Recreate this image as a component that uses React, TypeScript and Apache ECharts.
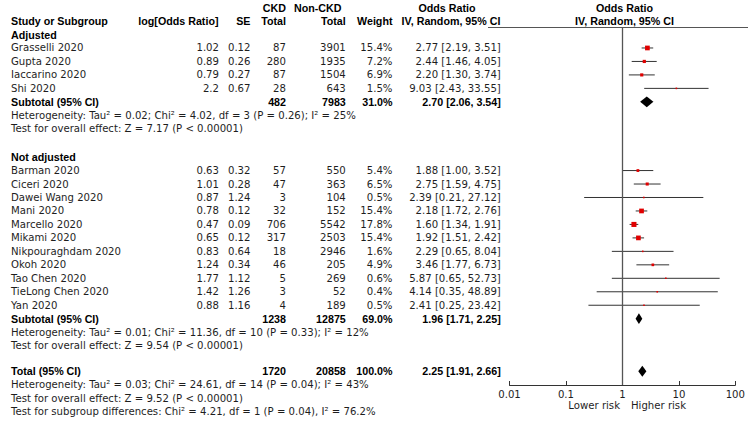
import React, { useEffect, useRef } from "react";
import * as echarts from "echarts";

// ---------------- data ----------------
const adjustedStudies = ["Grasselli 2020", "Gupta 2020", "Iaccarino 2020", "Shi 2020"];
const adjustedLogOR = [1.02, 0.89, 0.79, 2.2];
const adjustedSE = [0.12, 0.26, 0.27, 0.67];
const adjustedCKD = [87, 280, 87, 28];
const adjustedNonCKD = [3901, 1935, 1504, 643];
const adjustedWeight = [15.4, 7.2, 6.9, 1.5];
const adjustedOR = [2.77, 2.44, 2.2, 9.03];
const adjustedLow = [2.19, 1.46, 1.3, 2.43];
const adjustedHigh = [3.51, 4.05, 3.74, 33.55];

const notAdjStudies = [
  "Barman 2020", "Ciceri 2020", "Dawei Wang 2020", "Mani 2020", "Marcello 2020", "Mikami 2020",
  "Nikpouraghdam 2020", "Okoh 2020", "Tao Chen 2020", "TieLong Chen 2020", "Yan 2020",
];
const notAdjLogOR = [0.63, 1.01, 0.87, 0.78, 0.47, 0.65, 0.83, 1.24, 1.77, 1.42, 0.88];
const notAdjSE = [0.32, 0.28, 1.24, 0.12, 0.09, 0.12, 0.64, 0.34, 1.12, 1.26, 1.16];
const notAdjCKD = [57, 47, 3, 32, 706, 317, 18, 46, 5, 3, 4];
const notAdjNonCKD = [550, 363, 104, 152, 5542, 2503, 2946, 205, 269, 52, 189];
const notAdjWeight = [5.4, 6.5, 0.5, 15.4, 17.8, 15.4, 1.6, 4.9, 0.6, 0.4, 0.5];
const notAdjOR = [1.88, 2.75, 2.39, 2.18, 1.6, 1.92, 2.29, 3.46, 5.87, 4.14, 2.41];
const notAdjLow = [1.0, 1.59, 0.21, 1.72, 1.34, 1.51, 0.65, 1.77, 0.65, 0.35, 0.25];
const notAdjHigh = [3.52, 4.75, 27.12, 2.76, 1.91, 2.42, 8.04, 6.73, 52.73, 48.89, 23.42];

// subtotal / total: [CKD, NonCKD, weight, OR, low, high]
const adjustedSubtotal = [482, 7983, 31.0, 2.7, 2.06, 3.54];
const notAdjSubtotal = [1238, 12875, 69.0, 1.96, 1.71, 2.25];
const overallTotal = [1720, 20858, 100.0, 2.25, 1.91, 2.66];

const adjustedNotes = [
  "Heterogeneity: Tau² = 0.02; Chi² = 4.02, df = 3 (P = 0.26); I² = 25%",
  "Test for overall effect: Z = 7.17 (P < 0.00001)",
];
const notAdjNotes = [
  "Heterogeneity: Tau² = 0.01; Chi² = 11.36, df = 10 (P = 0.33); I² = 12%",
  "Test for overall effect: Z = 9.54 (P < 0.00001)",
];
const totalNotes = [
  "Heterogeneity: Tau² = 0.03; Chi² = 24.61, df = 14 (P = 0.04); I² = 43%",
  "Test for overall effect: Z = 9.52 (P < 0.00001)",
  "Test for subgroup differences: Chi² = 4.21, df = 1 (P = 0.04), I² = 76.2%",
];
const xTickLabels = ["0.01", "0.1", "1", "10", "100"];

// ---------------- layout ----------------
const W = 748;
const H = 422;
const ROW0 = 34.5;
const ROWH = 13.47;
const rowY = (i: number) => i + (i >= 9 && i <= 23 ? 0.1 : 0);
const FONT = '"DejaVu Sans", sans-serif';
const FS = 10.15;
const BOLD_FONT = '"Liberation Sans", Arial, sans-serif';
const BFS = 10.7;
const TXT = "#1e1e1e";

const COL = {
  name: 11,
  logOR: 219,
  se: 250.5,
  ckd: 286,
  non: 345.8,
  weight: 392.5,
  ci: 500.8,
};

type Cell = { x: number; row: number; text: string; align: string; bold?: boolean };
type FItem = { or: number; lo: number; hi: number; row: number; w: number; diamond: boolean };

const fmt2 = (v: number) => v.toFixed(2);
const ciText = (o: number, l: number, h: number) => `${fmt2(o)} [${fmt2(l)}, ${fmt2(h)}]`;

function buildCells(): { cells: Cell[]; forest: FItem[] } {
  const cells: Cell[] = [];
  const forest: FItem[] = [];
  // headers
  cells.push({ x: COL.ckd, row: -2, text: "CKD", align: "right", bold: true });
  cells.push({ x: 341.5, row: -2, text: "Non-CKD", align: "right", bold: true });
  cells.push({ x: 447, row: -2, text: "Odds Ratio", align: "center", bold: true });
  cells.push({ x: 624.5, row: -2, text: "Odds Ratio", align: "center", bold: true });
  cells.push({ x: COL.name, row: -1, text: "Study or Subgroup", align: "left", bold: true });
  cells.push({ x: 218.5, row: -1, text: "log[Odds Ratio]", align: "right", bold: true });
  cells.push({ x: COL.se, row: -1, text: "SE", align: "right", bold: true });
  cells.push({ x: COL.ckd, row: -1, text: "Total", align: "right", bold: true });
  cells.push({ x: COL.non, row: -1, text: "Total", align: "right", bold: true });
  cells.push({ x: COL.weight, row: -1, text: "Weight", align: "right", bold: true });
  cells.push({ x: 451, row: -1, text: "IV, Random, 95% CI", align: "center", bold: true });
  cells.push({ x: 624.5, row: -1, text: "IV, Random, 95% CI", align: "center", bold: true });

  const group = (
    start: number, title: string, names: string[], logOR: number[], se: number[], ckd: number[],
    non: number[], wt: number[], or: number[], lo: number[], hi: number[], sub: number[], notes: string[]
  ) => {
    cells.push({ x: COL.name, row: rowY(start), text: title, align: "left", bold: true });
    names.forEach((n, i) => {
      const r = rowY(start + 1 + i);
      cells.push({ x: COL.name, row: r, text: n, align: "left" });
      cells.push({ x: COL.logOR, row: r, text: String(logOR[i]), align: "right" });
      cells.push({ x: COL.se, row: r, text: String(se[i]), align: "right" });
      cells.push({ x: COL.ckd, row: r, text: String(ckd[i]), align: "right" });
      cells.push({ x: COL.non, row: r, text: String(non[i]), align: "right" });
      cells.push({ x: COL.weight, row: r, text: wt[i].toFixed(1) + "%", align: "right" });
      cells.push({ x: COL.ci, row: r, text: ciText(or[i], lo[i], hi[i]), align: "right" });
      forest.push({ or: or[i], lo: lo[i], hi: hi[i], row: r, w: wt[i], diamond: false });
    });
    const sr = rowY(start + 1 + names.length);
    cells.push({ x: COL.name, row: sr, text: "Subtotal (95% CI)", align: "left", bold: true });
    cells.push({ x: COL.ckd, row: sr, text: String(sub[0]), align: "right", bold: true });
    cells.push({ x: COL.non, row: sr, text: String(sub[1]), align: "right", bold: true });
    cells.push({ x: COL.weight, row: sr, text: sub[2].toFixed(1) + "%", align: "right", bold: true });
    cells.push({ x: COL.ci, row: sr, text: ciText(sub[3], sub[4], sub[5]), align: "right", bold: true });
    forest.push({ or: sub[3], lo: sub[4], hi: sub[5], row: sr, w: sub[2], diamond: true });
    notes.forEach((t, k) => {
      cells.push({ x: COL.name, row: rowY(start + 2 + names.length + k), text: t, align: "left" });
    });
  };

  group(0, "Adjusted", adjustedStudies, adjustedLogOR, adjustedSE, adjustedCKD, adjustedNonCKD,
    adjustedWeight, adjustedOR, adjustedLow, adjustedHigh, adjustedSubtotal, adjustedNotes);
  group(9, "Not adjusted", notAdjStudies, notAdjLogOR, notAdjSE, notAdjCKD, notAdjNonCKD,
    notAdjWeight, notAdjOR, notAdjLow, notAdjHigh, notAdjSubtotal, notAdjNotes);

  const tr = rowY(25);
  cells.push({ x: COL.name, row: tr, text: "Total (95% CI)", align: "left", bold: true });
  cells.push({ x: COL.ckd, row: tr, text: String(overallTotal[0]), align: "right", bold: true });
  cells.push({ x: COL.non, row: tr, text: String(overallTotal[1]), align: "right", bold: true });
  cells.push({ x: COL.weight, row: tr, text: overallTotal[2].toFixed(1) + "%", align: "right", bold: true });
  cells.push({ x: COL.ci, row: tr, text: ciText(overallTotal[3], overallTotal[4], overallTotal[5]), align: "right", bold: true });
  forest.push({ or: overallTotal[3], lo: overallTotal[4], hi: overallTotal[5], row: tr, w: overallTotal[2], diamond: true });
  totalNotes.forEach((t, k) => {
    cells.push({ x: COL.name, row: rowY(26 + k), text: t, align: "left" });
  });
  return { cells, forest };
}

export default function App() {
  const ref = useRef<HTMLDivElement>(null);
  useEffect(() => {
    document.body.style.margin = "0";
    if (!ref.current) return;
    const chart = echarts.init(ref.current, null, { renderer: "svg" });
    const { cells, forest } = buildCells();

    const plotLeft = 509.5;
    const plotRight = 740;
    const plotTop = 27;
    const plotBottom = 385;

    const option: any = {
      animation: false,
      backgroundColor: "#ffffff",
      grid: [
        { left: 0, top: 0, width: W, height: H },
        { left: plotLeft, top: plotTop, width: plotRight - plotLeft, height: plotBottom - plotTop },
      ],
      xAxis: [
        { gridIndex: 0, type: "value", min: 0, max: W, show: false },
        {
          gridIndex: 1,
          type: "log",
          logBase: 10,
          min: 0.01,
          max: 100,
          position: "bottom",
          axisLine: { show: true, onZero: false, lineStyle: { color: "#333", width: 1 } },
          axisTick: { show: true, inside: true, length: 4, lineStyle: { color: "#333", width: 1 } },
          minorTick: { show: false },
          splitLine: { show: false },
          axisLabel: {
            color: TXT,
            fontFamily: FONT,
            fontSize: FS,
            margin: 4,
            formatter: (v: number) => xTickLabels[Math.round(Math.log10(v)) + 2] ?? "",
          },
        },
      ],
      yAxis: [
        { gridIndex: 0, type: "value", inverse: true, min: -ROW0 / ROWH, max: (H - ROW0) / ROWH, show: false },
        {
          gridIndex: 1, type: "value", inverse: true,
          min: (plotTop - ROW0) / ROWH, max: (plotBottom - ROW0) / ROWH, show: false,
        },
      ],
      series: [
        {
          type: "custom",
          xAxisIndex: 0,
          yAxisIndex: 0,
          silent: true,
          data: cells.map((c) => [c.x, c.row]),
          renderItem: (params: any, api: any) => {
            const c = cells[params.dataIndex];
            const p = api.coord([api.value(0), api.value(1)]);
            const font = c.bold ? `bold ${BFS}px ${BOLD_FONT}` : `${FS}px ${FONT}`;
            return {
              type: "text",
              x: p[0],
              y: p[1],
              style: {
                text: c.text,
                fill: c.bold ? "#000" : TXT,
                font,
                align: c.align,
                verticalAlign: "middle",
                textAlign: c.align,
                textVerticalAlign: "middle",
              },
            };
          },
        },
        {
          type: "custom",
          xAxisIndex: 1,
          yAxisIndex: 1,
          silent: true,
          data: forest.map((f) => [f.or, f.row, f.lo, f.hi]),
          encode: { x: 0, y: 1 },
          renderItem: (params: any, api: any) => {
            const f = forest[params.dataIndex];
            const c = api.coord([api.value(0), api.value(1)]);
            const l = api.coord([api.value(2), api.value(1)]);
            const h = api.coord([api.value(3), api.value(1)]);
            if (f.diamond) {
              return {
                type: "polygon",
                shape: { points: [[l[0], c[1]], [c[0], c[1] - 5.4], [h[0], c[1]], [c[0], c[1] + 5.4]] },
                style: { fill: "#000" },
              };
            }
            const s = Math.max(1.6, 1.2 * Math.sqrt(f.w));
            return {
              type: "group",
              children: [
                {
                  type: "line",
                  shape: { x1: l[0], y1: c[1], x2: h[0], y2: c[1] },
                  style: { stroke: "#333", lineWidth: 1 },
                },
                {
                  type: "rect",
                  shape: { x: c[0] - s / 2, y: c[1] - s / 2, width: s, height: s },
                  style: { fill: "#e00000" },
                },
              ],
            };
          },
          markLine: {
            silent: true,
            symbol: "none",
            label: { show: false },
            lineStyle: { color: "#555", width: 1.3, type: "solid" },
            data: [{ xAxis: 1 }],
          },
        },
      ],
      graphic: [
        {
          type: "line",
          shape: { x1: 488, y1: 27.5, x2: W, y2: 27.5 },
          style: { stroke: "#555", lineWidth: 1 },
          silent: true,
        },
        {
          type: "text",
          x: 620,
          y: 405,
          style: {
            text: "Lower risk", fill: TXT, font: `${FS}px ${FONT}`,
            align: "right", verticalAlign: "middle", textAlign: "right", textVerticalAlign: "middle",
          },
        },
        {
          type: "text",
          x: 631,
          y: 405,
          style: {
            text: "Higher risk", fill: TXT, font: `${FS}px ${FONT}`,
            align: "left", verticalAlign: "middle", textAlign: "left", textVerticalAlign: "middle",
          },
        },
      ],
    };
    chart.setOption(option);
    return () => chart.dispose();
  }, []);
  return <div ref={ref} style={{ width: W, height: H }} />;
}
